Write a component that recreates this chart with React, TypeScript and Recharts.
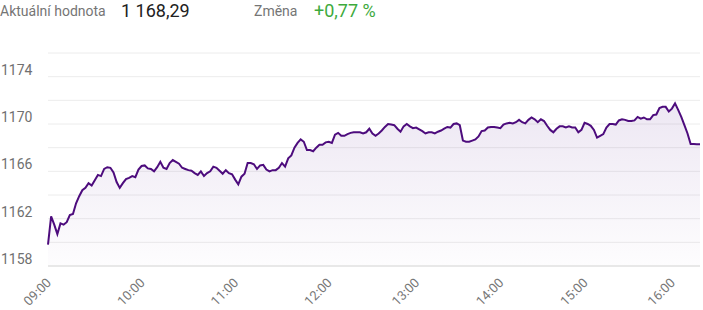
import { AreaChart, Area, XAxis, YAxis, CartesianGrid } from 'recharts';

// index values per trading hour
const h09 = [1159.8, 1162.2, 1161.5, 1160.7, 1161.6, 1161.5, 1161.7, 1162.3, 1162.4, 1163.3, 1163.9, 1164.4, 1164.6, 1165.0, 1164.8, 1165.25, 1165.7, 1165.6, 1166.2, 1166.35, 1166.3, 1165.9, 1165.1, 1164.6, 1165.0, 1165.35, 1165.45, 1165.6, 1165.5, 1166.15];
const h10 = [1166.45, 1166.5, 1166.25, 1166.2, 1166.0, 1166.35, 1166.8, 1166.3, 1166.2, 1166.7, 1166.95, 1166.8, 1166.65, 1166.3, 1166.2, 1166.1, 1166.05, 1165.85, 1165.7, 1166.0, 1165.6, 1165.85, 1166.0, 1166.4, 1166.3, 1166.05, 1165.8, 1166.1, 1165.85, 1165.75];
const h11 = [1165.3, 1164.9, 1165.55, 1165.8, 1166.7, 1166.7, 1166.6, 1166.2, 1166.5, 1166.55, 1166.15, 1166.0, 1166.1, 1166.1, 1166.3, 1166.7, 1166.4, 1167.1, 1167.35, 1168.0, 1168.4, 1168.7, 1168.5, 1167.8, 1167.8, 1167.7, 1168.0, 1168.25, 1168.25, 1168.45];
const h12 = [1168.5, 1168.4, 1169.1, 1169.25, 1169.0, 1169.0, 1169.15, 1169.25, 1169.3, 1169.3, 1169.3, 1169.2, 1169.3, 1169.6, 1169.2, 1169.0, 1169.2, 1169.45, 1169.75, 1170.0, 1169.95, 1169.9, 1169.6, 1169.35, 1169.8, 1170.0, 1169.8, 1169.65];
const h13 = [1169.7, 1169.55, 1169.4, 1169.2, 1169.3, 1169.3, 1169.2, 1169.35, 1169.45, 1169.6, 1169.75, 1169.7, 1170.0, 1170.05, 1169.9, 1168.6, 1168.5, 1168.5, 1168.6, 1168.7, 1168.95, 1169.4, 1169.45, 1169.7, 1169.75, 1169.75, 1169.7];
const h14 = [1169.65, 1169.95, 1170.05, 1170.1, 1170.05, 1170.15, 1170.35, 1170.15, 1170.05, 1170.35, 1170.55, 1170.4, 1170.15, 1170.4, 1170.25, 1169.85, 1169.5, 1169.3, 1169.6, 1169.8, 1169.8, 1169.7, 1169.8, 1169.7, 1169.7, 1169.3, 1169.5];
const h15 = [1170.1, 1170.0, 1169.85, 1169.5, 1168.85, 1169.0, 1169.15, 1169.7, 1170.0, 1170.0, 1169.95, 1170.3, 1170.4, 1170.35, 1170.25, 1170.25, 1170.3, 1170.6, 1170.45, 1170.55, 1170.4, 1170.4, 1170.75, 1170.8, 1171.35, 1171.45, 1171.45, 1171.05];
const h16 = [1171.3, 1171.75, 1171.2, 1170.6, 1169.9, 1169.2, 1168.3, 1168.3, 1168.29, 1168.29];

const hours = [9, 10, 11, 12, 13, 14, 15, 16];
const hourValues = [h09, h10, h11, h12, h13, h14, h15, h16];

const hourTicks = ['09:00', '10:00', '11:00', '12:00', '13:00', '14:00', '15:00', '16:00'];
const yTicks = [1158, 1160, 1162, 1164, 1166, 1168, 1170, 1172, 1174, 1176];
const yLabels = [1158, 1162, 1166, 1170, 1174];

const pad = (n: number) => String(n).padStart(2, '0');

const data = hours.flatMap((h, k) =>
  hourValues[k].map((v, i) => ({
    t: `${pad(h)}:${pad(Math.round((i * 60) / Math.max(hourValues[k].length, 30)))}`,
    value: v,
  }))
);

const XTick = ({ x, y, payload }: any) => {
  if (!hourTicks.includes(payload.value)) return <g />;
  const tx = x + 4;
  const ty = y + 9.5;
  return (
    <text x={tx} y={ty} textAnchor="end" fill="#777" fontSize={13} transform={`rotate(-45, ${tx}, ${ty})`}>
      {payload.value}
    </text>
  );
};

const YTick = ({ y, payload }: any) => {
  if (!yLabels.includes(payload.value)) return <g />;
  return (
    <text x={1} y={y - 2} textAnchor="start" fill="#707070" fontSize={14}>
      {payload.value}
    </text>
  );
};

export default function App() {
  return (
    <div style={{ position: 'absolute', left: 0, top: 0, width: 703, height: 310, fontFamily: 'Roboto, sans-serif', background: '#fff' }}>
      {/* header */}
      <span style={{ position: 'absolute', left: 0, top: 3, fontSize: 14, color: '#757575' }}>Aktuální hodnota</span>
      <span style={{ position: 'absolute', left: 121, top: 0, fontSize: 18, color: '#212121' }}>1 168,29</span>
      <span style={{ position: 'absolute', left: 254, top: 3, fontSize: 14, color: '#757575' }}>Změna</span>
      <span style={{ position: 'absolute', left: 314, top: 0, fontSize: 18, color: '#3daa3d' }}>+0,77 %</span>

      <AreaChart width={703} height={310} data={data} margin={{ top: 53, right: 3, bottom: 0, left: 0 }}>
        <defs>
          <linearGradient id="fillPx" x1="0" y1="0" x2="0" y2="1">
            <stop offset="0%" stopColor="#6a3a9a" stopOpacity={0.2} />
            <stop offset="100%" stopColor="#6a3a9a" stopOpacity={0.02} />
          </linearGradient>
        </defs>
        <CartesianGrid vertical={false} stroke="#ececec" />
        <XAxis
          dataKey="t"
          interval={0}
          tick={<XTick />}
          tickLine={false}
          axisLine={{ stroke: '#e8e8e8', strokeWidth: 2 }}
          height={44}
        />
        <YAxis
          domain={[1158, 1176]}
          ticks={yTicks}
          interval={0}
          tick={<YTick />}
          tickLine={false}
          axisLine={false}
          width={48}
        />
        <Area
          type="linear"
          dataKey="value"
          stroke="#4d0c7d"
          strokeWidth={2}
          fill="url(#fillPx)"
          isAnimationActive={false}
          dot={false}
          activeDot={false}
        />
      </AreaChart>
    </div>
  );
}
